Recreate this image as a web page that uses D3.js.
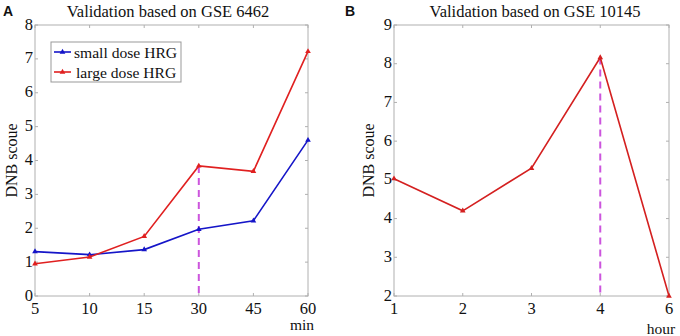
<!DOCTYPE html>
<html><head><meta charset="utf-8">
<script src="https://cdn.jsdelivr.net/npm/d3@7"></script>
<style>body{margin:0;background:#fff}svg{display:block}
.sf{font-family:"Liberation Serif","DejaVu Serif",serif;}
.sn{font-family:"Liberation Sans","DejaVu Sans",sans-serif;}</style>
</head><body>
<script>
// Panel A data
const catsA = ["5","10","15","30","45","60"];
const smallDose = [1.31, 1.22, 1.37, 1.97, 2.22, 4.60];
const largeDose = [0.95, 1.15, 1.76, 3.84, 3.68, 7.22];
const yTicksA = [0,1,2,3,4,5,6,7,8];
// Panel B data
const catsB = ["1","2","3","4","6"];
const valuesB = [5.03, 4.20, 5.30, 8.16, 2.00];
const yTicksB = [2,3,4,5,6,7,8,9];
const markA = "30", markB = "4";

const svg = d3.select("body").append("svg").attr("width",680).attr("height",336);

function panel(o){
  const g = svg.append("g");
  const x = d3.scalePoint().domain(o.cats).range([o.x0,o.x1]);
  const y = d3.scaleLinear().domain(o.yDom).range([o.y1,o.y0]);
  g.append("rect").attr("x",o.x0).attr("y",o.y0).attr("width",o.x1-o.x0).attr("height",o.y1-o.y0)
    .attr("fill","none").attr("stroke","#b0b0b0").attr("stroke-width",1);
  const tl = 3;
  o.cats.forEach(c=>{
    g.append("line").attr("x1",x(c)).attr("x2",x(c)).attr("y1",o.y1).attr("y2",o.y1-tl).attr("stroke","#b0b0b0");
    g.append("line").attr("x1",x(c)).attr("x2",x(c)).attr("y1",o.y0).attr("y2",o.y0+tl).attr("stroke","#b0b0b0");
  });
  o.yTicks.forEach(t=>{
    g.append("line").attr("x1",o.x0).attr("x2",o.x0+tl).attr("y1",y(t)).attr("y2",y(t)).attr("stroke","#b0b0b0");
    g.append("line").attr("x1",o.x1).attr("x2",o.x1-tl).attr("y1",y(t)).attr("y2",y(t)).attr("stroke","#b0b0b0");
  });
  g.selectAll(".xl").data(o.cats).enter().append("text").attr("class","sf")
    .attr("x",d=>x(d)).attr("y",o.y1+18).attr("text-anchor","middle")
    .attr("font-size",16.5).attr("fill","#111").text(d=>d);
  g.selectAll(".yl").data(o.yTicks).enter().append("text").attr("class","sf")
    .attr("x",o.x0-2).attr("y",d=>y(d)+4.5).attr("text-anchor","end")
    .attr("font-size",16.5).attr("fill","#111").text(d=>d);
  g.append("text").attr("class","sf").attr("x",o.titleX).attr("y",17).attr("text-anchor","middle")
    .attr("font-size",16.5).attr("fill","#111").text(o.title);
  g.append("text").attr("class","sn").attr("x",o.letterX).attr("y",16)
    .attr("font-size",14).attr("font-weight","bold").attr("fill","#111").text(o.letter);
  g.append("text").attr("class","sf").attr("transform",`translate(${o.ylabX},${(o.y0+o.y1)/2}) rotate(-90)`)
    .attr("text-anchor","middle").attr("font-size",16).attr("fill","#111").text("DNB scoue");
  g.append("text").attr("class","sf").attr("x",o.unitX).attr("y",o.unitY).attr("text-anchor","middle")
    .attr("font-size",15.5).attr("fill","#111").text(o.unit);
  g.append("line").attr("x1",x(o.mark)).attr("x2",x(o.mark))
    .attr("y1",y(o.markVal)).attr("y2",o.y1)
    .attr("stroke","#cc55dd").attr("stroke-width",2).attr("stroke-dasharray","7,5");
  o.series.forEach(s=>{
    const line = d3.line().x((d,i)=>x(o.cats[i])).y(d=>y(d));
    g.append("path").datum(s.values).attr("d",line).attr("fill","none").attr("stroke",s.color).attr("stroke-width",1.6);
    g.selectAll(null).data(s.values).enter().append("path")
      .attr("transform",(d,i)=>`translate(${x(o.cats[i])},${y(d)})`)
      .attr("d",d3.symbol(d3.symbolTriangle,14)).attr("fill",s.color);
  });
  return {x,y};
}

panel({cats:catsA, x0:35, x1:308, y0:25, y1:296, yDom:[0,8], yTicks:yTicksA,
  title:"Validation based on GSE 6462", titleX:168, letter:"A", letterX:3, ylabX:17, unit:"min", unitX:302, unitY:330,
  mark:markA, markVal:largeDose[catsA.indexOf(markA)],
  series:[{values:smallDose,color:"#1515c8"},{values:largeDose,color:"#e02020"}]});

panel({cats:catsB, x0:394, x1:669, y0:25, y1:296, yDom:[2,9], yTicks:yTicksB,
  title:"Validation based on GSE 10145", titleX:535, letter:"B", letterX:345, ylabX:374, unit:"hour", unitX:661, unitY:334,
  mark:markB, markVal:valuesB[catsB.indexOf(markB)],
  series:[{values:valuesB,color:"#d42020"}]});

const leg = svg.append("g");
leg.append("rect").attr("x",51).attr("y",42).attr("width",130).attr("height",40)
  .attr("fill","#fff").attr("stroke","#999");
const legItems = [{name:"small dose HRG",color:"#1515c8"},{name:"large dose HRG",color:"#e02020"}];
legItems.forEach((d,i)=>{
  const yy = 52 + i*20;
  leg.append("line").attr("x1",54).attr("x2",71).attr("y1",yy).attr("y2",yy).attr("stroke",d.color).attr("stroke-width",1.6);
  leg.append("path").attr("transform",`translate(62.5,${yy})`).attr("d",d3.symbol(d3.symbolTriangle,14)).attr("fill",d.color);
  leg.append("text").attr("class","sf").attr("x",i===0?74:76).attr("y",yy+5.5).attr("font-size",15.6).attr("fill","#111").text(d.name);
});
</script>
</body></html>
